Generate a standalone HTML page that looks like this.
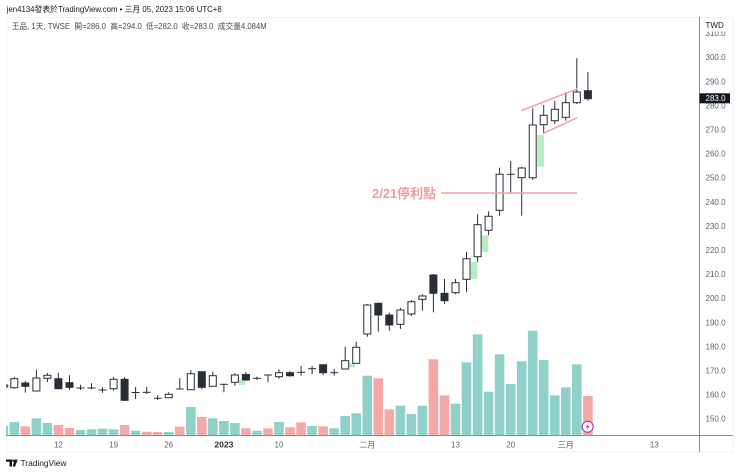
<!DOCTYPE html>
<html><head><meta charset="utf-8"><style>
html,body{margin:0;padding:0;background:#fff;}
svg{display:block;}
.t{font-family:"Liberation Sans","Noto Sans CJK TC",sans-serif;}
.wk{stroke:#2a2e39;stroke-width:1;}
.W{fill:#fff;stroke:#2a2e39;stroke-width:1;}
.D{fill:#2a2e39;stroke:#2a2e39;stroke-width:1;}
.vT{fill:#8fd1c8;}
.vR{fill:#f5a9a7;}
.g{fill:#b5eec4;}
.ax{font-size:8px;fill:#5d606b;}
</style></head><body>
<svg width="740" height="474" viewBox="0 0 740 474" xmlns="http://www.w3.org/2000/svg">
<rect width="740" height="474" fill="#fff"/>
<!-- frame -->
<rect x="6.5" y="17.5" width="726.5" height="434.5" fill="none" stroke="#f2f2f2"/>
<!-- header -->
<text class="t" x="6.7" y="12" font-size="8" fill="#131722" textLength="215" lengthAdjust="spacingAndGlyphs">jen4134發表於TradingView.com • 三月 05, 2023 15:06 UTC+8</text>
<text class="t" x="11.7" y="29" font-size="8" fill="#4a4a4a" textLength="255" lengthAdjust="spacingAndGlyphs" xml:space="preserve" style="white-space:pre">王品, 1天, TWSE  開=286.0  高=294.0  低=282.0  收=283.0  成交量4.084M</text>

<!-- volume -->
<g>
<rect class="vT" x="6" y="426" width="2.1" height="9"/>
<rect class="vT" x="9.5" y="422" width="9.6" height="13"/>
<rect class="vR" x="20.5" y="426.3" width="9.6" height="8.7"/>
<rect class="vT" x="31.6" y="418.3" width="9.6" height="16.7"/>
<rect class="vT" x="42.6" y="423" width="9.6" height="12"/>
<rect class="vR" x="53.6" y="425" width="9.6" height="10"/>
<rect class="vR" x="64.7" y="428" width="9.6" height="7"/>
<rect class="vT" x="75.7" y="430" width="9.6" height="5"/>
<rect class="vT" x="86.7" y="429.3" width="9.6" height="5.7"/>
<rect class="vT" x="97.7" y="428.7" width="9.6" height="6.3"/>
<rect class="vT" x="108.8" y="429.3" width="9.6" height="5.7"/>
<rect class="vR" x="119.8" y="425" width="9.6" height="10"/>
<rect class="vT" x="130.8" y="430.7" width="9.6" height="4.3"/>
<rect class="vR" x="141.9" y="431.7" width="9.6" height="3.3"/>
<rect class="vR" x="152.9" y="432" width="9.6" height="3"/>
<rect class="vT" x="163.9" y="432" width="9.6" height="3"/>
<rect class="vR" x="175" y="426.7" width="9.6" height="8.3"/>
<rect class="vT" x="186" y="407" width="9.6" height="28"/>
<rect class="vR" x="197" y="417" width="9.6" height="18"/>
<rect class="vT" x="208" y="418.3" width="9.6" height="16.7"/>
<rect class="vT" x="219.1" y="421" width="9.6" height="14"/>
<rect class="vT" x="230.1" y="423" width="9.6" height="12"/>
<rect class="vR" x="241.1" y="428.3" width="9.6" height="6.7"/>
<rect class="vT" x="252.2" y="430.7" width="9.6" height="4.3"/>
<rect class="vR" x="263.2" y="428.3" width="9.6" height="6.7"/>
<rect class="vT" x="274.2" y="422" width="9.6" height="13"/>
<rect class="vR" x="285.2" y="427.3" width="9.6" height="7.7"/>
<rect class="vR" x="296.3" y="422.3" width="9.6" height="12.7"/>
<rect class="vT" x="307.3" y="426" width="9.6" height="9"/>
<rect class="vR" x="318.3" y="426.3" width="9.6" height="8.7"/>
<rect class="vT" x="329.4" y="428.3" width="9.6" height="6.7"/>
<rect class="vT" x="340.4" y="416" width="9.6" height="19"/>
<rect class="vT" x="351.4" y="413.3" width="9.6" height="21.7"/>
<rect class="vT" x="362.5" y="375.7" width="9.6" height="59.3"/>
<rect class="vR" x="373.5" y="378.3" width="9.6" height="56.7"/>
<rect class="vR" x="384.5" y="409.3" width="9.6" height="25.7"/>
<rect class="vT" x="395.6" y="405.7" width="9.6" height="29.3"/>
<rect class="vT" x="406.6" y="414" width="9.6" height="21"/>
<rect class="vT" x="417.6" y="405.7" width="9.6" height="29.3"/>
<rect class="vR" x="428.6" y="359.3" width="9.6" height="75.7"/>
<rect class="vR" x="439.7" y="395.3" width="9.6" height="39.7"/>
<rect class="vT" x="450.7" y="403.7" width="9.6" height="31.3"/>
<rect class="vT" x="461.7" y="362.3" width="9.6" height="72.7"/>
<rect class="vT" x="472.8" y="334.3" width="9.6" height="100.7"/>
<rect class="vT" x="483.8" y="391.7" width="9.6" height="43.3"/>
<rect class="vT" x="494.8" y="354.3" width="9.6" height="80.7"/>
<rect class="vT" x="505.9" y="384" width="9.6" height="51"/>
<rect class="vT" x="516.9" y="361.3" width="9.6" height="73.7"/>
<rect class="vT" x="527.9" y="330.7" width="9.6" height="104.3"/>
<rect class="vT" x="538.9" y="360" width="9.6" height="75"/>
<rect class="vT" x="550" y="395.3" width="9.6" height="39.7"/>
<rect class="vT" x="561" y="387.3" width="9.6" height="47.7"/>
<rect class="vT" x="572" y="364.3" width="9.6" height="70.7"/>
<rect class="vR" x="583.1" y="396" width="9.6" height="39"/>
</g>

<!-- gap highlight rects -->
<rect class="g" x="239" y="380" width="6" height="5"/>
<rect class="g" x="349.3" y="363.3" width="5.7" height="4"/>
<rect class="g" x="471" y="262" width="6.3" height="17"/>
<rect class="g" x="481.7" y="235.3" width="6.6" height="16.7"/>
<rect class="g" x="537.3" y="135" width="6.7" height="31.7"/>

<!-- candles -->
<g>
<line class="wk" x1="7" y1="384" x2="7" y2="388"/><line class="wk" x1="6" y1="386" x2="8.5" y2="386"/>
<line class="wk" x1="14.3" y1="377" x2="14.3" y2="388.7"/><rect class="W" x="10.8" y="378.7" width="7" height="9"/>
<line class="wk" x1="25.3" y1="381" x2="25.3" y2="392.7"/><rect class="D" x="21.8" y="383" width="7" height="3.3"/>
<line class="wk" x1="36.4" y1="369.7" x2="36.4" y2="391"/><rect class="W" x="32.9" y="378" width="7" height="13"/>
<line class="wk" x1="47.4" y1="373" x2="47.4" y2="382"/><rect class="W" x="43.9" y="375.3" width="7" height="3"/>
<line class="wk" x1="58.4" y1="372.7" x2="58.4" y2="388.7"/><rect class="D" x="54.9" y="378.7" width="7" height="10"/>
<line class="wk" x1="69.5" y1="375.3" x2="69.5" y2="390"/><rect class="D" x="66" y="382.7" width="7" height="4.6"/>
<line class="wk" x1="80.5" y1="384.7" x2="80.5" y2="390"/><line class="wk" x1="76.5" y1="388" x2="84.5" y2="388"/>
<line class="wk" x1="91.5" y1="383.3" x2="91.5" y2="389.3"/><line class="wk" x1="87.5" y1="388" x2="95.5" y2="388"/>
<line class="wk" x1="102.5" y1="387.3" x2="102.5" y2="392.7"/><line class="wk" x1="98.5" y1="390" x2="106.5" y2="390"/>
<line class="wk" x1="113.6" y1="377" x2="113.6" y2="390.7"/><rect class="W" x="110.1" y="379.3" width="7" height="9.4"/>
<line class="wk" x1="124.6" y1="377" x2="124.6" y2="401"/><rect class="D" x="121.1" y="379.3" width="7" height="21"/>
<line class="wk" x1="135.6" y1="387" x2="135.6" y2="399"/><line class="wk" x1="131.6" y1="392.5" x2="139.6" y2="392.5"/>
<line class="wk" x1="146.7" y1="386.7" x2="146.7" y2="394"/><line class="wk" x1="142.7" y1="392.3" x2="150.7" y2="392.3"/>
<line class="wk" x1="157.7" y1="395" x2="157.7" y2="400"/><line class="wk" x1="153.7" y1="398.3" x2="161.7" y2="398.3"/>
<line class="wk" x1="168.7" y1="392.3" x2="168.7" y2="397.7"/><rect class="W" x="165.2" y="394.3" width="7" height="3.4"/>
<line class="wk" x1="179.8" y1="378.3" x2="179.8" y2="389"/><line class="wk" x1="175.8" y1="389" x2="183.8" y2="389"/>
<line class="wk" x1="190.8" y1="370" x2="190.8" y2="389.7"/><rect class="W" x="187.3" y="373.7" width="7" height="16"/>
<line class="wk" x1="201.8" y1="371.7" x2="201.8" y2="389.3"/><rect class="D" x="198.3" y="371.7" width="7" height="15.6"/>
<line class="wk" x1="212.8" y1="371.7" x2="212.8" y2="386.3"/><rect class="W" x="209.3" y="375.7" width="7" height="10.6"/>
<line class="wk" x1="223.9" y1="384.3" x2="223.9" y2="392.3"/><line class="wk" x1="219.9" y1="384.3" x2="227.9" y2="384.3"/>
<line class="wk" x1="234.9" y1="373.3" x2="234.9" y2="385.7"/><rect class="W" x="231.4" y="375" width="7" height="7.3"/>
<line class="wk" x1="245.9" y1="372" x2="245.9" y2="381"/><rect class="D" x="242.4" y="374.5" width="7" height="5.5"/>
<line class="wk" x1="257" y1="376.7" x2="257" y2="380"/><line class="wk" x1="253" y1="378.3" x2="261" y2="378.3"/>
<line class="wk" x1="268" y1="375" x2="268" y2="382.3"/><line class="wk" x1="264" y1="375" x2="272" y2="375"/>
<line class="wk" x1="279" y1="369.3" x2="279" y2="378.7"/><rect class="W" x="275.5" y="372.7" width="7" height="4"/>
<line class="wk" x1="290" y1="371" x2="290" y2="376.7"/><rect class="D" x="286.5" y="372.7" width="7" height="3"/>
<line class="wk" x1="301.1" y1="366" x2="301.1" y2="375.7"/><line class="wk" x1="297.1" y1="372.3" x2="305.1" y2="372.3"/>
<line class="wk" x1="312.1" y1="366" x2="312.1" y2="374"/><line class="wk" x1="308.1" y1="368.7" x2="316.1" y2="368.7"/>
<line class="wk" x1="323.1" y1="364.7" x2="323.1" y2="375"/><rect class="D" x="319.6" y="364.7" width="7" height="8"/>
<line class="wk" x1="334.2" y1="369.3" x2="334.2" y2="375.7"/><line class="wk" x1="330.2" y1="372.7" x2="338.2" y2="372.7"/>
<line class="wk" x1="345.2" y1="346.7" x2="345.2" y2="369"/><rect class="W" x="341.7" y="360.7" width="7" height="8.3"/>
<line class="wk" x1="356.2" y1="341.7" x2="356.2" y2="363.3"/><rect class="W" x="352.7" y="347.3" width="7" height="16"/>
<line class="wk" x1="367.3" y1="304" x2="367.3" y2="336.7"/><rect class="W" x="363.8" y="305" width="7" height="29"/>
<line class="wk" x1="378.3" y1="302.7" x2="378.3" y2="331.7"/><rect class="D" x="374.8" y="303.3" width="7" height="11.7"/>
<line class="wk" x1="389.3" y1="312.7" x2="389.3" y2="330.7"/><rect class="D" x="385.8" y="315" width="7" height="10"/>
<line class="wk" x1="400.4" y1="307.7" x2="400.4" y2="329"/><rect class="W" x="396.9" y="310" width="7" height="14.3"/>
<line class="wk" x1="411.4" y1="300" x2="411.4" y2="316"/><rect class="W" x="407.9" y="301.7" width="7" height="12.3"/>
<line class="wk" x1="422.4" y1="294.3" x2="422.4" y2="310.7"/><rect class="W" x="418.9" y="296" width="7" height="3.3"/>
<line class="wk" x1="433.4" y1="274" x2="433.4" y2="312.3"/><rect class="D" x="429.9" y="275" width="7" height="18.3"/>
<line class="wk" x1="444.5" y1="279" x2="444.5" y2="304"/><rect class="D" x="441" y="293.3" width="7" height="7.4"/>
<line class="wk" x1="455.5" y1="279" x2="455.5" y2="294.3"/><rect class="W" x="452" y="282.7" width="7" height="10"/>
<line class="wk" x1="466.5" y1="252" x2="466.5" y2="291.7"/><rect class="W" x="463" y="258.7" width="7" height="20.6"/>
<line class="wk" x1="477.6" y1="214.3" x2="477.6" y2="262"/><rect class="W" x="474.1" y="224.7" width="7" height="32"/>
<line class="wk" x1="488.6" y1="211.3" x2="488.6" y2="235.3"/><rect class="W" x="485.1" y="216.3" width="7" height="14"/>
<line class="wk" x1="499.6" y1="167.7" x2="499.6" y2="215.7"/><rect class="W" x="496.1" y="174.3" width="7" height="36"/>
<line class="wk" x1="510.7" y1="161" x2="510.7" y2="192.7"/><line class="wk" x1="506.7" y1="174.3" x2="514.7" y2="174.3"/>
<line class="wk" x1="521.7" y1="166.7" x2="521.7" y2="215.7"/><rect class="W" x="518.2" y="168" width="7" height="9.7"/>
<line class="wk" x1="532.7" y1="108.3" x2="532.7" y2="180"/><rect class="W" x="529.2" y="125" width="7" height="52.7"/>
<line class="wk" x1="543.7" y1="105" x2="543.7" y2="134"/><rect class="W" x="540.2" y="115.3" width="7" height="9.4"/>
<line class="wk" x1="554.8" y1="100.7" x2="554.8" y2="124"/><rect class="W" x="551.3" y="109.3" width="7" height="11.4"/>
<line class="wk" x1="565.8" y1="92.3" x2="565.8" y2="120.7"/><rect class="W" x="562.3" y="102.7" width="7" height="14.6"/>
<line class="wk" x1="576.8" y1="58.3" x2="576.8" y2="104"/><rect class="W" x="573.3" y="92" width="7" height="10.7"/>
<line class="wk" x1="587.9" y1="72" x2="587.9" y2="100.7"/><rect class="D" x="584.4" y="90.7" width="7" height="8"/>
</g>

<!-- annotations -->
<g stroke="#f4a0a3" stroke-width="1.5" fill="none">
<line x1="521" y1="110.7" x2="577.7" y2="88.7"/>
<line x1="543.3" y1="133.3" x2="577.3" y2="117.7"/>
<line x1="441" y1="193" x2="577" y2="193"/>
</g>
<text class="t" x="372" y="197.8" font-size="13" font-weight="bold" fill="#f29a9c" textLength="64" lengthAdjust="spacingAndGlyphs">2/21停利點</text>

<!-- lightning icon -->
<circle cx="587.7" cy="426.7" r="5.5" fill="#fff" stroke="#9c27b0" stroke-width="1"/>
<path d="M588.9 423.2 L585.9 427.2 L587.8 427.2 L586.6 430.2 L589.6 426.1 L587.7 426.1 Z" fill="#9c27b0"/>

<!-- axes -->
<line x1="6" y1="435.5" x2="733" y2="435.5" stroke="#8a8d96" stroke-width="1"/>
<line x1="699.5" y1="17" x2="699.5" y2="452" stroke="#8a8d96" stroke-width="1"/>

<!-- price labels -->
<g class="t ax">
<text x="705.5" y="36.1">310.0</text>
<text x="705.5" y="60.2">300.0</text>
<text x="705.5" y="84.3">290.0</text>
<text x="705.5" y="108.4">280.0</text>
<text x="705.5" y="132.5">270.0</text>
<text x="705.5" y="156.6">260.0</text>
<text x="705.5" y="180.7">250.0</text>
<text x="705.5" y="204.8">240.0</text>
<text x="705.5" y="228.9">230.0</text>
<text x="705.5" y="253">220.0</text>
<text x="705.5" y="277.1">210.0</text>
<text x="705.5" y="301.2">200.0</text>
<text x="705.5" y="325.3">190.0</text>
<text x="705.5" y="349.4">180.0</text>
<text x="705.5" y="373.5">170.0</text>
<text x="705.5" y="397.6">160.0</text>
<text x="705.5" y="421.7">150.0</text>
</g>
<rect x="700" y="18" width="32.5" height="13.5" fill="#fff"/>
<text class="t" x="705.5" y="28" font-size="8" fill="#131722">TWD</text>
<rect x="699.5" y="93.3" width="30.5" height="10" fill="#131722"/>
<text class="t" x="705.5" y="101.2" font-size="8" fill="#fff">283.0</text>

<!-- time labels -->
<g class="t ax" text-anchor="middle">
<text x="58.4" y="447.3">12</text>
<text x="113.6" y="447.3">19</text>
<text x="168.7" y="447.3">26</text>
<text x="223.9" y="447.3" font-weight="bold" fill="#333" font-size="8.6">2023</text>
<text x="279" y="447.3">10</text>
<text x="367.3" y="447.3">二月</text>
<text x="455.5" y="447.3">13</text>
<text x="510.7" y="447.3">20</text>
<text x="565.8" y="447.3">三月</text>
<text x="654.3" y="447.3">13</text>
</g>

<!-- TradingView logo -->
<g fill="#131722">
<path d="M6 459.5 H12 V466.5 H9.5 V461.8 H6 Z"/>
<circle cx="13.4" cy="460.7" r="1.2"/>
<path d="M14.8 459.5 H17.6 L15.2 466.5 H12.6 Z"/>
</g>
<text class="t" x="20.5" y="466" font-size="8.5" fill="#131722" textLength="46" lengthAdjust="spacingAndGlyphs">TradingView</text>
</svg>
</body></html>
